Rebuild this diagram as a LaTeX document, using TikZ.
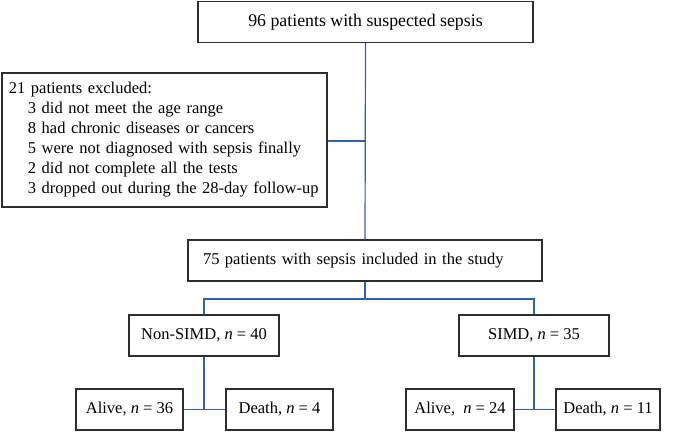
\documentclass[tikz,border=0pt]{standalone}
\usepackage{fontspec}
\setmainfont{Liberation Serif}
\usepackage{tikz}
\usetikzlibrary{calc,positioning}

\definecolor{linkblue}{RGB}{52,96,170}
\definecolor{boxgray}{RGB}{45,45,45}

\begin{document}
\begin{tikzpicture}[x=1pt,y=-1pt,
	box/.style={draw=boxgray, line width=1.4pt, inner sep=0pt,
		minimum height=41pt, font=\fontsize{16.5}{20}\selectfont},
	link/.style={draw=linkblue, line width=1.2pt}]

% canvas %{{{2

	\useasboundingbox (0,0) rectangle (674,431);

% parameters %{{{2

	\def\exclindent{\hspace*{19pt}}

% boxes %{{{2

	\node[box, minimum width=335pt, font=\fontsize{17.8}{20}\selectfont] (top) at (365.5,22)
		{96 patients with suspected sepsis};

	\node[box, minimum width=325pt, minimum height=134pt, align=left,
		text width=311pt, inner xsep=7pt] (excl) at (164.5,140)
		{21 patients excluded:\\
		\exclindent 3 did not meet the age range\\
		\exclindent 8 had chronic diseases or cancers\\
		\exclindent 5 were not diagnosed with sepsis finally\\
		\exclindent 2 did not complete all the tests\\
		\exclindent 3 dropped out during the 28-day follow-up};

	\node[box, minimum width=354pt, align=left, text width=324pt,
		inner xsep=15pt] (incl) at (365,260.5)
		{75 patients with sepsis included in the study};

	\node[box, minimum width=150pt] (nonsimd) at (204,335.5) {Non-SIMD, \textit{n} = 40};
	\node[box, minimum width=150pt] (simd) at (534,335.5) {SIMD, \textit{n} = 35};

	\node[box, minimum width=107pt] (alive1) at (129.5,409.5) {Alive, \textit{n} = 36};
	\node[box, minimum width=107pt] (death1) at (279.5,409.5) {Death, \textit{n} = 4};
	\node[box, minimum width=108pt] (alive2) at (460,409.5) {Alive,~ \textit{n} = 24};
	\node[box, minimum width=104pt] (death2) at (608,409.5) {Death, \textit{n} = 11};

% coordinates %{{{2

	\coordinate (exclout) at (top.south |- 0,141);
	\coordinate (split) at (incl.south |- 0,299);

% connectors %{{{2

	\draw[link] (top.south) -- (incl.north);
	\draw[link] (exclout) -- (excl.east |- exclout);

	\draw[link] (incl.south) -- (split);
	\draw[link] (nonsimd.north) |- (split) -| (simd.north);

	\draw[link] (nonsimd.south) -- (nonsimd.south |- alive1.east);
	\draw[link] (alive1.east) -- (death1.west);

	\draw[link] (simd.south) -- (simd.south |- alive2.east);
	\draw[link] (alive2.east) -- (death2.west);

% closing %{{{2

\end{tikzpicture}
\end{document}
